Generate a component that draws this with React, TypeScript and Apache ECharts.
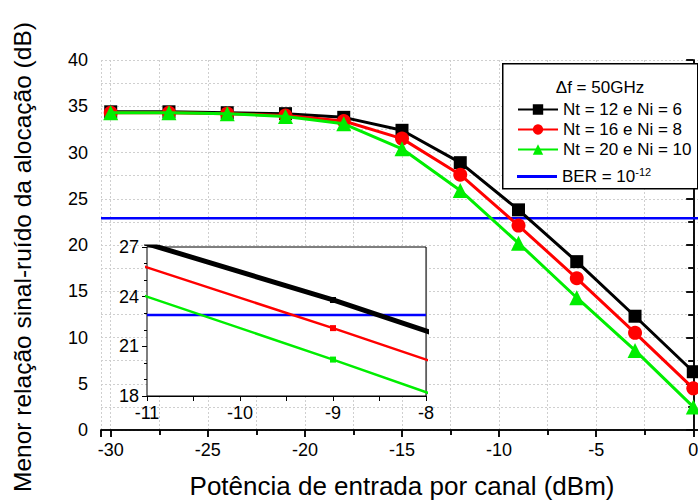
import React, { useEffect, useRef } from "react";
import * as echarts from "echarts";

const X_DBM = [-30, -27, -24, -21, -18, -15, -12, -9, -6, -3, 0];
const NT12 = [34.4, 34.4, 34.3, 34.2, 33.8, 32.4, 28.9, 23.8, 18.2, 12.3, 6.3];
const NT16 = [34.3, 34.3, 34.2, 34.0, 33.4, 31.5, 27.6, 22.1, 16.4, 10.5, 4.5];
const NT20 = [34.3, 34.3, 34.2, 33.9, 33.1, 30.4, 25.9, 20.2, 14.3, 8.6, 2.5];
const BER_LIMIT = 22.9;
const NAMES = ["Nt = 12 e Ni = 6", "Nt = 16 e Ni = 8", "Nt = 20 e Ni = 10", "BER"];
const COLORS = ["#000000", "#ff0000", "#00ee00", "#0000ff"];
const MAIN_X_RANGE = [-30.5, 0.5];
const INSET_X_RANGE = [-11, -8];
const INSET_Y_RANGE = [18, 27];
const X_TITLE = "Potência de entrada por canal (dBm)";
const Y_TITLE = "Menor relação sinal-ruído da alocação (dB)";
const LEGEND_TITLE = "Δf = 50GHz";

const FONT = "'Liberation Sans', Arial, sans-serif";

function pairs(ys: number[]) {
  return X_DBM.map((x, i) => [x, ys[i]]);
}

export default function App() {
  const ref = useRef<HTMLDivElement>(null);
  useEffect(() => {
    document.body.style.margin = "0";
    const chart = echarts.init(ref.current!, null, { renderer: "svg" });
    const gridLineMain = { show: true, lineStyle: { color: "#cfcfcf", type: [2, 2] as any, width: 1 } };
    const mainSeries = [NT12, NT16, NT20].map((ys, i) => ({
      name: NAMES[i],
      type: "line",
      xAxisIndex: 0,
      yAxisIndex: 0,
      data: pairs(ys),
      symbol: ["rect", "circle", "triangle"][i],
      symbolSize: [13, 14, 15][i],
      lineStyle: { color: COLORS[i], width: 3 },
      itemStyle: { color: COLORS[i] },
      z: 3 + i,
    }));
    const insetSeries = [NT12, NT16, NT20].map((ys, i) => ({
      name: "inset" + i,
      type: "line",
      xAxisIndex: 2,
      yAxisIndex: 2,
      data: pairs(ys),
      symbol: "rect",
      symbolSize: 6,
      clip: true,
      lineStyle: { color: COLORS[i], width: i === 0 ? 5 : 2.5 },
      itemStyle: { color: COLORS[i] },
      z: 12 + i,
    }));
    const option: any = {
      animation: false,
      textStyle: { fontFamily: FONT },
      grid: [
        { left: 101, top: 60, width: 602, height: 370, show: false, outerBoundsMode: "none", containLabel: false },
        { left: 147, top: 247, width: 279, height: 149, show: true, backgroundColor: "#fff", borderColor: "#000", borderWidth: 1, z: 8, outerBoundsMode: "none", containLabel: false },
      ],
      xAxis: [
        {
          gridIndex: 0, type: "value", min: MAIN_X_RANGE[0], max: MAIN_X_RANGE[1], splitNumber: 6,
          name: X_TITLE, nameLocation: "middle", nameGap: 43,
          nameTextStyle: { fontSize: 26, color: "#000", fontFamily: FONT },
          axisLine: { lineStyle: { color: "#000", width: 1.5 } },
          axisTick: { inside: false, length: 7, lineStyle: { color: "#000", width: 1.5 } },
          minorTick: { show: true, splitNumber: 2, length: 5, lineStyle: { color: "#000", width: 1.5 } },
          axisLabel: { fontSize: 18, color: "#000", margin: 11, showMinLabel: false, showMaxLabel: false, fontFamily: FONT },
          splitLine: gridLineMain,
          minorSplitLine: gridLineMain,
        },
        {
          gridIndex: 0, type: "value", position: "top", min: MAIN_X_RANGE[0], max: MAIN_X_RANGE[1], splitNumber: 6,
          axisLine: { lineStyle: { color: "#000", width: 1.5 } },
          axisTick: { inside: true, length: 7, lineStyle: { color: "#000", width: 1.5 } },
          minorTick: { show: true, splitNumber: 2, length: 5, lineStyle: { color: "#000", width: 1.5 } },
          axisLabel: { show: false },
          splitLine: { show: false },
        },
        {
          gridIndex: 1, type: "value", min: INSET_X_RANGE[0], max: INSET_X_RANGE[1], interval: 1,
          axisLine: { lineStyle: { color: "#000", width: 1 } },
          axisTick: { inside: false, length: 5, lineStyle: { color: "#000" } },
          minorTick: { show: true, splitNumber: 2, length: 5, lineStyle: { color: "#000" } },
          axisLabel: { fontSize: 18, color: "#000", margin: 8, fontFamily: FONT },
          splitLine: { show: true, lineStyle: { color: "#bdbdbd", width: 1.2 } },
          minorSplitLine: { show: true, lineStyle: { color: "#bdbdbd", width: 1.2 } },
        },
      ],
      yAxis: [
        {
          gridIndex: 0, type: "value", min: 0, max: 40, interval: 5,
          axisLine: { show: true, lineStyle: { color: "#000", width: 1.5 } },
          axisTick: { show: true, inside: false, length: 7, lineStyle: { color: "#000", width: 1.5 } },
          minorTick: { show: true, splitNumber: 2, length: 5, lineStyle: { color: "#000", width: 1.5 } },
          axisLabel: { fontSize: 18, color: "#000", margin: 13, fontFamily: FONT },
          splitLine: gridLineMain,
          minorSplitLine: gridLineMain,
        },
        {
          gridIndex: 0, type: "value", position: "right", min: 0, max: 40, interval: 5,
          axisLine: { show: true, lineStyle: { color: "#000", width: 1.5 } },
          axisTick: { show: true, inside: true, length: 7, lineStyle: { color: "#000", width: 1.5 } },
          minorTick: { show: true, splitNumber: 2, length: 5, lineStyle: { color: "#000", width: 1.5 } },
          axisLabel: { show: false },
          splitLine: { show: false },
        },
        {
          gridIndex: 1, type: "value", min: INSET_Y_RANGE[0], max: INSET_Y_RANGE[1], interval: 3,
          axisLine: { show: true, lineStyle: { color: "#000", width: 1 } },
          axisTick: { show: true, inside: false, length: 5, lineStyle: { color: "#000" } },
          minorTick: { show: true, splitNumber: 3, length: 3, lineStyle: { color: "#000" } },
          axisLabel: { fontSize: 18, color: "#000", margin: 8, fontFamily: FONT },
          splitLine: { show: true, lineStyle: { color: "#bdbdbd", width: 1.2 } },
          minorSplitLine: { show: true, lineStyle: { color: "#bdbdbd", width: 1.2 } },
        },
      ],
      legend: [
        {
          data: NAMES.slice(0, 3), orient: "vertical", left: 512, top: 96,
          itemWidth: 40, itemHeight: 13, itemGap: 3, z: 20,
          textStyle: { fontSize: 17, color: "#000", fontFamily: FONT },
        },
        {
          data: [{ name: "BER", icon: "rect" }], orient: "vertical", left: 512, top: 161,
          itemWidth: 40, itemHeight: 3, z: 20,
          formatter: () => "BER = 10{sup|-12}",
          textStyle: {
            fontSize: 17, color: "#000", fontFamily: FONT,
            rich: {
              sup: { fontSize: 11, color: "#000", fontFamily: FONT, verticalAlign: "top", padding: [0, 0, 10, 0] },
            },
          },
        },
      ],
      graphic: [
        {
          type: "rect", left: 502, top: 63, z: 15,
          shape: { width: 195, height: 125 },
          style: { fill: "#fff", stroke: "#000", lineWidth: 1.5 },
        },
        {
          type: "text", x: 600, y: 87, z: 16,
          style: { text: LEGEND_TITLE, fontSize: 17, fontFamily: FONT, fill: "#000", align: "center", verticalAlign: "middle" },
        },
        {
          type: "text", x: 22, y: 257, rotation: Math.PI / 2, z: 16,
          style: { text: Y_TITLE, fontSize: 24.5, fontFamily: FONT, fill: "#000", align: "center", verticalAlign: "middle" },
        },
      ],
      series: [
        ...mainSeries,
        {
          name: "BER",
          type: "line",
          xAxisIndex: 0,
          yAxisIndex: 0,
          data: [[MAIN_X_RANGE[0], BER_LIMIT], [MAIN_X_RANGE[1], BER_LIMIT]],
          symbol: "none",
          lineStyle: { color: COLORS[3], width: 2.5 },
          itemStyle: { color: COLORS[3] },
          z: 2,
        },
        ...insetSeries,
        {
          name: "insetBER",
          type: "line",
          xAxisIndex: 2,
          yAxisIndex: 2,
          data: [[INSET_X_RANGE[0], BER_LIMIT], [INSET_X_RANGE[1], BER_LIMIT]],
          symbol: "none",
          lineStyle: { color: COLORS[3], width: 2.5 },
          z: 11,
        },
      ],
    };
    chart.setOption(option);
    return () => chart.dispose();
  }, []);
  return <div ref={ref} style={{ width: 698, height: 504 }} />;
}
